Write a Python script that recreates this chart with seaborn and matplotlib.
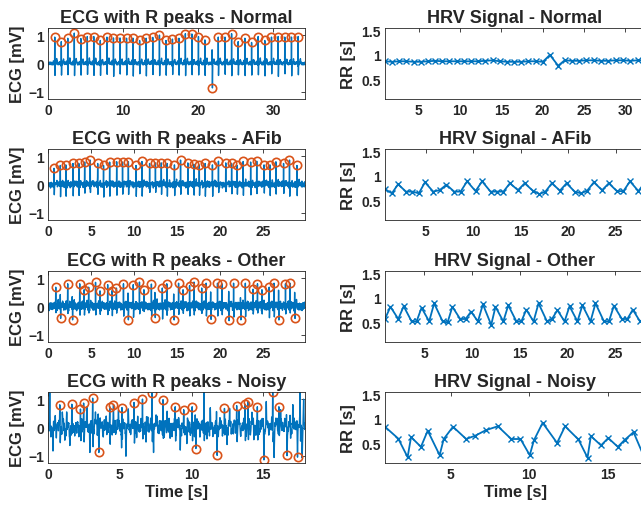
import numpy as np
import pandas as pd
import matplotlib
matplotlib.use("Agg")
import matplotlib.pyplot as plt
import seaborn as sns

# ---------------- data ----------------
classes = ["Normal", "AFib", "Other", "Noisy"]

# ECG record durations (s)
durations = {"Normal": 34.2, "AFib": 29.9, "Other": 29.9, "Noisy": 17.9}

# time of the first detected R peak (s)
first_peak = {"Normal": 0.90, "AFib": 0.70, "Other": 0.90, "Noisy": 0.82}

# RR intervals (s) as shown in the HRV panels
normal_rr = [0.87, 0.86, 0.87, 0.87, 0.86, 0.86, 0.87, 0.88, 0.87, 0.87,
             0.87, 0.87, 0.87, 0.87, 0.88, 0.89, 0.87, 0.86, 0.86, 0.86,
             0.87, 0.87, 0.86, 1.00, 0.78, 0.89, 0.88, 0.88, 0.89, 0.89,
             0.88, 0.88, 0.89, 0.89, 0.88, 0.89, 0.89]
afib_rr = [0.73, 0.645, 0.83, 0.68, 0.68, 0.645, 0.87, 0.68, 0.71, 0.82,
           0.68, 0.68, 0.89, 0.69, 0.89, 0.68, 0.68, 0.68, 0.85, 0.71,
           0.85, 0.70, 0.63, 0.68, 0.85, 0.70, 0.85, 0.68, 0.645, 0.70,
           0.87, 0.71, 0.85, 0.69, 0.69, 0.89, 0.69, 0.87]
other_rr = [0.57, 0.82, 0.57, 0.83, 0.52, 0.52, 0.80, 0.52, 0.89, 0.52,
            0.50, 0.82, 0.57, 0.57, 0.72, 0.52, 0.87, 0.45, 0.82, 0.52,
            0.85, 0.52, 0.52, 0.76, 0.52, 0.89, 0.52, 0.57, 0.75, 0.52,
            0.83, 0.52, 0.85, 0.52, 0.89, 0.52, 0.52, 0.84, 0.57, 0.57,
            0.76, 0.52, 0.59]
noisy_rr = [0.84, 0.60, 0.22, 0.63, 0.43, 0.76, 0.26, 0.59, 0.84, 0.59,
            0.66, 0.77, 0.85, 0.59, 0.59, 0.26, 0.56, 0.92, 0.51, 0.85,
            0.58, 0.21, 0.65, 0.46, 0.61, 0.43, 0.57, 0.73, 0.18]

# R-peak amplitudes (mV) as circled in the ECG panels
normal_amp = [0.93, 0.77, 0.89, 1.07, 0.88, 0.95, 0.95, 0.81, 0.93, 0.90,
              0.90, 0.89, 0.89, 0.81, 0.89, 0.92, 1.00, 0.81, 0.86, 0.89,
              1.05, 1.04, 0.95, 0.83, -0.86, 0.93, 0.93, 1.05, 0.77, 0.89,
              0.74, 0.95, 0.81, 0.93, 0.95, 0.93, 0.93, 0.95]
afib_amp = [0.57, 0.67, 0.69, 0.74, 0.74, 0.79, 0.86, 0.74, 0.67, 0.79,
            0.80, 0.79, 0.80, 0.67, 0.81, 0.74, 0.76, 0.76, 0.74, 0.69,
            0.86, 0.76, 0.71, 0.69, 0.74, 0.69, 0.82, 0.76, 0.74, 0.67,
            0.81, 0.79, 0.82, 0.69, 0.69, 0.80, 0.74, 0.86, 0.67]
other_amp = [0.68, -0.42, 0.80, -0.47, 0.80, 0.59, 0.68, 0.85, 0.55, 0.77,
             0.56, 0.65, 0.80, -0.47, 0.77, 0.86, 0.59, 0.79, -0.39, 0.65,
             0.80, -0.47, 0.82, 0.59, 0.73, 0.86, 0.65, 0.82, -0.45, 0.82,
             0.80, -0.49, 0.82, -0.47, 0.82, 0.61, 0.80, 0.59, 0.68, 0.82,
             -0.47, 0.80, 0.82, -0.42]
noisy_amp = [0.80, 0.82, 0.65, 0.86, 1.03, -0.88, 0.73, 0.80, 0.67, 0.88,
             1.00, 1.21, 0.98, 0.73, 0.62, 0.73, -0.74, 1.45, -0.98, 0.67,
             0.77, 0.82, 0.91, 0.73, -1.14, 1.24, 0.73, -0.98, -1.04, 1.45]

# extra artefact spikes visible in the noisy record (time s, mV)
noisy_spike_t = [0.12, 0.35, 0.50, 1.00, 1.17, 1.30, 1.52, 1.98, 2.70, 2.92,
                 3.30, 3.85, 4.05, 4.90, 5.13, 5.43, 5.60, 6.18, 6.83, 6.95,
                 7.35, 7.60, 8.09, 8.30, 8.51, 9.00, 9.21, 9.67, 11.07, 11.30,
                 12.47, 12.65, 13.30, 13.40, 14.20, 14.34, 15.20, 15.74, 16.20,
                 16.90, 17.05, 17.70, 17.80]
noisy_spike_v = [1.12, -0.71, 0.45, 0.43, -0.47, 0.40, -0.59, -0.29, 0.53, -0.79,
                 0.45, -0.27, 0.47, 0.40, -0.62, -1.14, 0.47, -0.41, -0.55, 0.45,
                 -0.59, 0.50, -0.35, 0.48, -0.44, 0.42, -0.77, -0.41, -0.65, 0.55,
                 -0.53, 0.48, 0.50, -0.47, 0.46, -0.29, 0.50, -0.94, 0.45,
                 -0.53, 0.95, -0.94, 0.77]

rr_data = {"Normal": normal_rr, "AFib": afib_rr, "Other": other_rr, "Noisy": noisy_rr}
amp_data = {"Normal": normal_amp, "AFib": afib_amp, "Other": other_amp, "Noisy": noisy_amp}

ecg_xticks = {"Normal": [0, 10, 20, 30], "AFib": [0, 5, 10, 15, 20, 25],
              "Other": [0, 5, 10, 15, 20, 25], "Noisy": [0, 5, 10, 15]}
hrv_xticks = {"Normal": [5, 10, 15, 20, 25, 30], "AFib": [5, 10, 15, 20, 25],
              "Other": [5, 10, 15, 20, 25], "Noisy": [5, 10, 15]}
ecg_yticks = [-1, 0, 1]
hrv_yticks = [0.5, 1, 1.5]

# ---------------- styles ----------------
BLUE = "#0072BD"
ORANGE = "#D95319"
AXC = "#262626"
FS = 250.0

# beat morphology (P amp, S depth, T amp) and baseline texture per record
morph = {"Normal": (0.08, 0.42, 0.15), "AFib": (0.0, 0.36, 0.08),
         "Other": (0.05, 0.30, 0.10), "Noisy": (0.05, 0.45, 0.10)}
texture = {"Normal": [(0.03, 7.3, 0.0), (0.02, 13.1, 1.0)],
           "AFib": [(0.06, 6.1, 0.0), (0.04, 8.7, 1.3), (0.025, 15.3, 2.1)],
           "Other": [(0.07, 5.3, 0.3), (0.05, 11.9, 1.1), (0.04, 19.3, 2.5)],
           "Noisy": [(0.12, 3.1, 0.0), (0.10, 7.7, 1.7), (0.09, 13.3, 0.4), (0.07, 21.1, 2.9)]}


def g(t, mu, s):
    return np.exp(-0.5 * ((t - mu) / s) ** 2)


def build_ecg(name, peaks, amps):
    dur = durations[name]
    t = np.arange(0, dur, 1 / FS)
    t = np.union1d(t, peaks[(peaks >= 0) & (peaks <= dur)])
    y = np.zeros_like(t)
    for a, f, ph in texture[name]:
        y += a * np.sin(2 * np.pi * f * t + ph)
    p_amp, s_dep, t_amp = morph[name]
    for tr, A in zip(peaks, amps):
        if A >= 0:
            y += p_amp * g(t, tr - 0.17, 0.025) - 0.06 * g(t, tr - 0.03, 0.008)
            y += -s_dep * g(t, tr + 0.03, 0.010) + t_amp * g(t, tr + 0.27, 0.045)
        else:
            y += 0.45 * g(t, tr - 0.045, 0.012) + 0.12 * g(t, tr + 0.2, 0.05)
    if name == "Noisy":
        for st, sv in zip(noisy_spike_t, noisy_spike_v):
            y += sv * g(t, st, 0.015)
    for tr, A in zip(peaks, amps):
        i = np.argmin(np.abs(t - tr))
        y += (A - y[i]) * g(t, tr, 0.010 if A >= 0 else 0.013)
    return t, y


# ---------------- figure ----------------
sns.set_style("white")
plt.rcParams["font.family"] = ["Liberation Sans", "DejaVu Sans"]
plt.rcParams["font.weight"] = "bold"
plt.rcParams["axes.titleweight"] = "bold"
plt.rcParams["axes.labelweight"] = "bold"

W, H = 641, 510
fig = plt.figure(figsize=(W / 100, H / 100), dpi=100)
row_tops = [29, 150, 272, 393]
row_h = 71


def rect(left, top, w, h):
    return [left / W, 1 - (top + h) / H, w / W, h / H]


def style_ax(ax):
    for sp in ax.spines.values():
        sp.set_color(AXC)
        sp.set_linewidth(0.6)
        sp.set_visible(True)
    ax.tick_params(direction="in", length=3, width=0.6, top=True, right=True,
                   labelsize=10, colors=AXC, labelcolor=AXC, pad=3)


for r, name in enumerate(classes):
    rr = np.array(rr_data[name])
    amps = np.array(amp_data[name])
    peaks = first_peak[name] + np.concatenate([[0.0], np.cumsum(rr)])
    t, y = build_ecg(name, peaks, amps)

    # ECG panel
    ax = fig.add_axes(rect(48, row_tops[r], 257, row_h))
    ecg_df = pd.DataFrame({"t": t, "v": y})
    sns.lineplot(data=ecg_df, x="t", y="v", ax=ax, color=BLUE, linewidth=1.0,
                 estimator=None, sort=False, errorbar=None)
    pk_df = pd.DataFrame({"t": peaks, "v": amps})
    sns.lineplot(data=pk_df, x="t", y="v", ax=ax, linestyle="none", marker="o",
                 markersize=6, markerfacecolor="none", markeredgecolor=ORANGE,
                 markeredgewidth=1.2, estimator=None, sort=False, errorbar=None)
    ax.set_xlim(0, durations[name])
    ax.set_ylim(-1.25, 1.25)
    ax.set_xticks(ecg_xticks[name])
    ax.set_yticks(ecg_yticks)
    style_ax(ax)
    ax.set_title(f"ECG with R peaks - {name}", fontsize=13, pad=4)
    ax.set_ylabel("ECG [mV]", fontsize=12, labelpad=2)
    ax.set_xlabel("Time [s]" if r == 3 else "", fontsize=12, labelpad=2)

    # HRV panel
    ax2 = fig.add_axes(rect(385, row_tops[r], 260, row_h))
    hrv_df = pd.DataFrame({"t": peaks[:-1], "rr": rr})
    sns.lineplot(data=hrv_df, x="t", y="rr", ax=ax2, color=BLUE, linewidth=1.3,
                 marker="x", markersize=5, markeredgecolor=BLUE, markeredgewidth=1.0,
                 estimator=None, sort=False, errorbar=None)
    ax2.set_xlim(peaks[0], peaks[-2])
    ax2.set_ylim(0.1, 1.55)
    ax2.set_xticks(hrv_xticks[name])
    ax2.set_yticks(hrv_yticks)
    ax2.set_yticklabels(["0.5", "1", "1.5"])
    style_ax(ax2)
    ax2.set_title(f"HRV Signal - {name}", fontsize=13, pad=4)
    ax2.set_ylabel("RR [s]", fontsize=12, labelpad=4)
    ax2.set_xlabel("Time [s]" if r == 3 else "", fontsize=12, labelpad=2)

fig.savefig("out.png", dpi=100)
